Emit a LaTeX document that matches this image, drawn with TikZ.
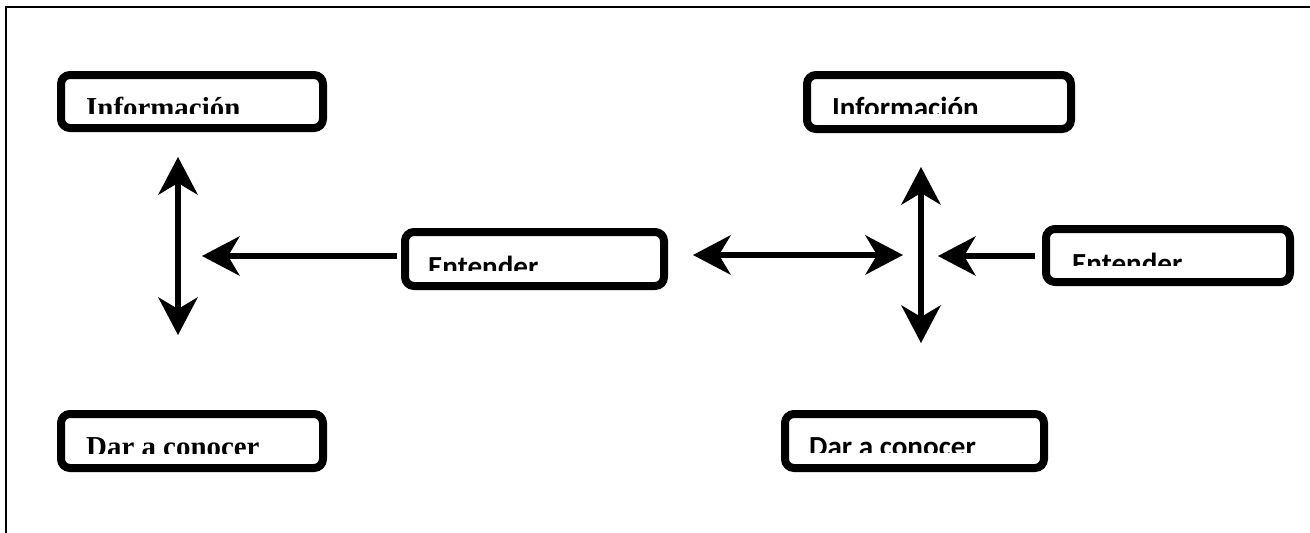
\documentclass[tikz,border=0pt]{standalone}
\usepackage{fontspec}
\usetikzlibrary{arrows.meta}
\newfontfamily\serifbold{Liberation Serif}[BoldFont={Liberation Serif Bold}]
\newfontfamily\sansbold{Carlito}[BoldFont={Carlito Bold}]
\tikzset{
  box/.style={draw=black, line width=8pt, rounded corners=9pt, inner sep=0pt, outer sep=0pt, fill=white},
  serlabel/.style={anchor=base west, inner sep=0pt, font=\serifbold\bfseries\fontsize{28.9}{30}\selectfont},
  sanlabel/.style={anchor=base west, inner sep=0pt, font=\sansbold\bfseries\fontsize{29.1}{30}\selectfont},
  biarrow/.style={line width=6.5pt, {Stealth[length=38pt,width=40pt,inset=12pt,line width=0pt]}-{Stealth[length=38pt,width=40pt,inset=12pt,line width=0pt]}},
  onearrow/.style={line width=6.5pt, -{Stealth[length=38pt,width=40pt,inset=12pt,line width=0pt]}},
  frame/.style={line width=2pt}
}
\begin{document}
\begin{tikzpicture}[x=1pt,y=-1pt]
\useasboundingbox (0,0) rectangle (1310,533);
% outer frame, open on the right and at the bottom
\draw[frame] (1310,7) -- (6,7) -- (6,533);

% boxes
\node[box, minimum width=262pt, minimum height=53pt] (info1) at (192,101.5) {};
\node[box, minimum width=262pt, minimum height=54pt] (dar1) at (192,441) {};
\node[box, minimum width=259pt, minimum height=54pt] (ent1) at (534.5,259) {};
\node[box, minimum width=264pt, minimum height=54pt] (info2) at (939,102) {};
\node[box, minimum width=244pt, minimum height=53pt] (ent2) at (1168,255.5) {};
\node[box, minimum width=259pt, minimum height=54pt] (dar2) at (914.5,441) {};

% labels, cut off at the lower part of each box
\begin{scope}
  \clip (65,79) rectangle (319,113);
  \node[serlabel] (t1) at (86,117) {Información};
\end{scope}
\begin{scope}
  \clip (65,418) rectangle (319,453);
  \node[serlabel] (t2) at (86,456) {Dar a conocer};
\end{scope}
\begin{scope}
  \clip (409,236) rectangle (660,270);
  \node[sanlabel] (t3) at (428,276.6) {Entender};
\end{scope}
\begin{scope}
  \clip (811,79) rectangle (1067,113);
  \node[sanlabel] (t4) at (832,117.7) {Información};
\end{scope}
\begin{scope}
  \clip (1050,233) rectangle (1286,265);
  \node[sanlabel] (t5) at (1072,273.6) {Entender};
\end{scope}
\begin{scope}
  \clip (789,418) rectangle (1040,452);
  \node[sanlabel] (t6) at (809,456.6) {Dar a conocer};
\end{scope}

% arrow end points
\coordinate (l-top) at (178,157);
\coordinate (l-bot) at (178,335);
\coordinate (l-tip) at (202,256);
\coordinate (m-left) at (693,255);
\coordinate (m-right) at (903,255);
\coordinate (r-top) at (921,167);
\coordinate (r-bot) at (921,343);
\coordinate (r-tip) at (938,256);

% arrows
\draw[biarrow] (l-top) -- (l-bot);
\draw[onearrow, shorten <=8pt] (ent1.west |- l-tip) -- (l-tip);
\draw[biarrow] (m-left) -- (m-right);
\draw[biarrow] (r-top) -- (r-bot);
\draw[onearrow, shorten <=11pt] (ent2.west |- r-tip) -- (r-tip);
\end{tikzpicture}
\end{document}
